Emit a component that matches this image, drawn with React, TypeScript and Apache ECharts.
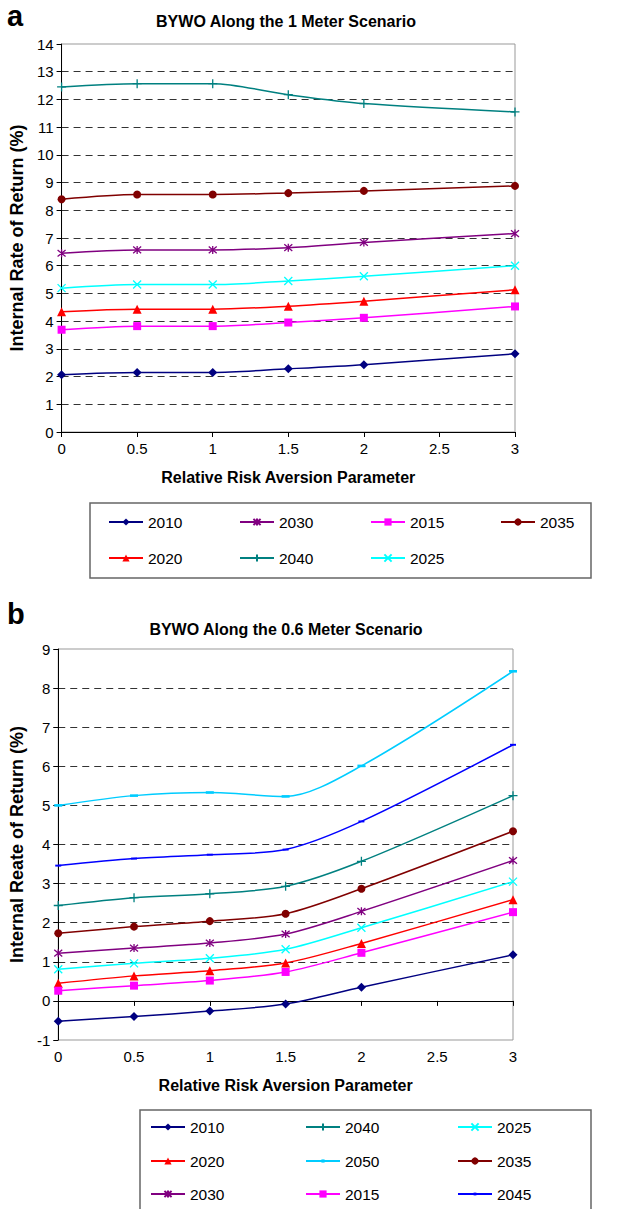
import React, { useEffect, useRef } from "react";
import * as echarts from "echarts";

const X = [0, 0.5, 1, 1.5, 2, 3];

// Panel a: 1 Meter scenario
const A_2010 = [2.07, 2.15, 2.15, 2.28, 2.43, 2.82];
const A_2015 = [3.69, 3.82, 3.82, 3.95, 4.12, 4.53];
const A_2020 = [4.34, 4.43, 4.43, 4.54, 4.72, 5.13];
const A_2025 = [5.19, 5.32, 5.32, 5.45, 5.62, 6.0];
const A_2030 = [6.45, 6.57, 6.57, 6.65, 6.84, 7.16];
const A_2035 = [8.4, 8.57, 8.57, 8.62, 8.7, 8.88];
const A_2040 = [12.45, 12.57, 12.57, 12.17, 11.85, 11.55];

// Panel b: 0.6 Meter scenario
const B_2010 = [-0.52, -0.4, -0.26, -0.08, 0.35, 1.18];
const B_2015 = [0.26, 0.39, 0.52, 0.74, 1.23, 2.27];
const B_2020 = [0.45, 0.64, 0.77, 0.97, 1.47, 2.59];
const B_2025 = [0.81, 0.96, 1.09, 1.32, 1.87, 3.05];
const B_2030 = [1.22, 1.35, 1.48, 1.71, 2.29, 3.59];
const B_2035 = [1.73, 1.9, 2.04, 2.23, 2.87, 4.34];
const B_2040 = [2.44, 2.64, 2.74, 2.93, 3.57, 5.25];
const B_2045 = [3.46, 3.64, 3.74, 3.87, 4.59, 6.55];
const B_2050 = [5.0, 5.25, 5.33, 5.23, 6.01, 8.43];

const LEGEND_A = [
  ["2010", "2030", "2015", "2035"],
  ["2020", "2040", "2025"],
];
const LEGEND_B = [
  ["2010", "2040", "2025"],
  ["2020", "2050", "2035"],
  ["2030", "2015", "2045"],
];

const TITLE_A = "BYWO Along the 1 Meter Scenario";
const TITLE_B = "BYWO Along the 0.6 Meter Scenario";
const X_NAME = "Relative Risk Aversion Parameter";
const Y_NAME_A = "Internal Rate of Return (%)";
const Y_NAME_B = "Internal Reate of Return (%)";

const FONT = "'Liberation Sans', Arial, Helvetica, sans-serif";
const DASH = "path://M0,0L4,0L4,1.3L0,1.3Z";

const STYLE: Record<string, any> = {
  "2010": { color: "#000080", symbol: "diamond", size: 9, stroke: false },
  "2015": { color: "#FF00FF", symbol: "rect", size: 8, stroke: false },
  "2020": { color: "#FF0000", symbol: "triangle", size: 9, stroke: false },
  "2025": { color: "#00FFFF", symbol: "path://M0,0L10,10M10,0L0,10", size: 8, stroke: true },
  "2030": { color: "#800080", symbol: "path://M0,0L10,10M10,0L0,10M5,-1L5,11", size: 8, stroke: true },
  "2035": { color: "#800000", symbol: "circle", size: 8, stroke: false },
  "2040": { color: "#008080", symbol: "path://M5,0L5,10M0,5L10,5", size: 9, stroke: true },
  "2045": { color: "#0000FF", symbol: DASH, size: 6, stroke: false, keep: true, legendH: 3.5 },
  "2050": { color: "#00CCFF", symbol: DASH, size: 8, stroke: false, keep: true, legendH: 4 },
};

function mkSeries(name: string, vals: number[], xi: number, yi: number) {
  const s = STYLE[name];
  return {
    name,
    type: "line",
    xAxisIndex: xi,
    yAxisIndex: yi,
    data: X.map((x, i) => [x, vals[i]]),
    smooth: 0.3,
    symbol: s.symbol,
    symbolSize: s.size,
    symbolKeepAspect: !!s.keep,
    showSymbol: true,
    color: s.color,
    lineStyle: { color: s.color, width: 1.5 },
    itemStyle: s.stroke
      ? { color: s.color, borderColor: s.color, borderWidth: 1.3 }
      : { color: s.color, borderWidth: 0 },
    emphasis: { disabled: true },
    z: 5,
  };
}

function legendItems(rows: string[][], xs: number[], ys: number[]) {
  const out: any[] = [];
  rows.forEach((row, r) => {
    row.forEach((name, c) => {
      out.push({
        data: [name],
        left: xs[c],
        top: ys[r] - 8,
        padding: 0,
        itemGap: 0,
        itemWidth: 34,
        itemHeight: STYLE[name].legendH || 9,
        selectedMode: false,
        textStyle: { fontFamily: FONT, fontSize: 15.5, color: "#000", lineHeight: 16 },
      });
    });
  });
  return out;
}

export default function App() {
  const ref = useRef<HTMLDivElement>(null);
  useEffect(() => {
    if (!ref.current) return;
    const chart = echarts.init(ref.current, undefined, { renderer: "svg" });

    const tickLabel = { fontFamily: FONT, fontSize: 15, color: "#000" };
    const nameStyleX = { fontFamily: FONT, fontSize: 16, fontWeight: "bold", color: "#000" };
    const nameStyleY = { fontFamily: FONT, fontSize: 18, fontWeight: "bold", color: "#000" };
    const splitLine = {
      show: true,
      showMinLine: false,
      showMaxLine: false,
      lineStyle: { color: "#333", type: [7, 5], width: 1 },
    };

    const option: any = {
      animation: false,
      backgroundColor: "#fff",
      grid: [
        { left: 57, top: 44, width: 458, height: 388, show: true, borderColor: "#999", borderWidth: 1, backgroundColor: "transparent" },
        { left: 56, top: 649, width: 457, height: 391, show: true, borderColor: "#999", borderWidth: 1, backgroundColor: "transparent" },
      ],
      xAxis: [
        {
          gridIndex: 0, type: "value", min: 0, max: 3, interval: 0.5,
          name: X_NAME, nameLocation: "middle", nameGap: 37, nameTextStyle: nameStyleX,
          axisLine: { show: true, onZero: false, lineStyle: { color: "#000", width: 1 } },
          axisTick: { show: true, inside: false, length: 5, lineStyle: { color: "#000" } },
          axisLabel: { ...tickLabel, margin: 9 },
          splitLine: { show: false },
        },
        {
          gridIndex: 1, type: "value", min: 0, max: 3, interval: 0.5, position: "bottom",
          name: X_NAME, nameLocation: "middle", nameGap: 37, nameTextStyle: nameStyleX,
          axisLine: { show: false, onZero: false },
          axisTick: { show: false },
          axisLabel: { ...tickLabel, margin: 9 },
          splitLine: { show: false },
        },
        {
          gridIndex: 1, type: "value", min: 0, max: 3, interval: 0.5, position: "bottom",
          axisLine: { show: true, onZero: true, lineStyle: { color: "#000", width: 1 } },
          axisTick: { show: true, inside: false, length: 5, lineStyle: { color: "#000" } },
          axisLabel: { show: false },
          splitLine: { show: false },
        },
      ],
      yAxis: [
        {
          gridIndex: 0, type: "value", min: 0, max: 14, interval: 1,
          name: Y_NAME_A, nameLocation: "middle", nameGap: 30, nameTextStyle: nameStyleY,
          axisLine: { show: true, onZero: false, lineStyle: { color: "#000", width: 1 } },
          axisTick: { show: true, inside: false, length: 5, lineStyle: { color: "#000" } },
          axisLabel: { ...tickLabel, margin: 8 },
          splitLine,
        },
        {
          gridIndex: 1, type: "value", min: -1, max: 9, interval: 1,
          name: Y_NAME_B, nameLocation: "middle", nameGap: 30, nameTextStyle: nameStyleY,
          axisLine: { show: true, onZero: false, lineStyle: { color: "#000", width: 1 } },
          axisTick: { show: true, inside: false, length: 5, lineStyle: { color: "#000" } },
          axisLabel: { ...tickLabel, margin: 8 },
          splitLine,
        },
      ],
      legend: [
        ...legendItems(LEGEND_A, [108, 239, 370, 500], [522, 558]),
        ...legendItems(LEGEND_B, [150, 305, 457], [1127, 1161, 1194]),
      ],
      graphic: [
        { type: "text", left: 7, top: 1, style: { text: "a", font: `bold 29px ${FONT}`, fill: "#000" } },
        { type: "text", left: 7, top: 599, style: { text: "b", font: `bold 29px ${FONT}`, fill: "#000" } },
        { type: "text", x: 286, y: 21, style: { text: TITLE_A, font: `bold 16px ${FONT}`, fill: "#000", textAlign: "center", textVerticalAlign: "middle" } },
        { type: "text", x: 286, y: 629, style: { text: TITLE_B, font: `bold 16px ${FONT}`, fill: "#000", textAlign: "center", textVerticalAlign: "middle" } },
        { type: "rect", shape: { x: 90, y: 503, width: 501, height: 75 }, style: { fill: "none", stroke: "#666", lineWidth: 1.5 }, z: -1 },
        { type: "rect", shape: { x: 140, y: 1110, width: 451, height: 120 }, style: { fill: "none", stroke: "#666", lineWidth: 1.5 }, z: -1 },
      ],
      series: [
        mkSeries("2010", A_2010, 0, 0),
        mkSeries("2030", A_2030, 0, 0),
        mkSeries("2015", A_2015, 0, 0),
        mkSeries("2035", A_2035, 0, 0),
        mkSeries("2020", A_2020, 0, 0),
        mkSeries("2040", A_2040, 0, 0),
        mkSeries("2025", A_2025, 0, 0),
        mkSeries("2010", B_2010, 1, 1),
        mkSeries("2040", B_2040, 1, 1),
        mkSeries("2025", B_2025, 1, 1),
        mkSeries("2020", B_2020, 1, 1),
        mkSeries("2050", B_2050, 1, 1),
        mkSeries("2035", B_2035, 1, 1),
        mkSeries("2030", B_2030, 1, 1),
        mkSeries("2015", B_2015, 1, 1),
        mkSeries("2045", B_2045, 1, 1),
      ],
    };
    chart.setOption(option);
    return () => chart.dispose();
  }, []);
  return (
    <div
      ref={ref}
      style={{ position: "absolute", left: 0, top: 0, width: 617, height: 1209, background: "#fff" }}
    />
  );
}
